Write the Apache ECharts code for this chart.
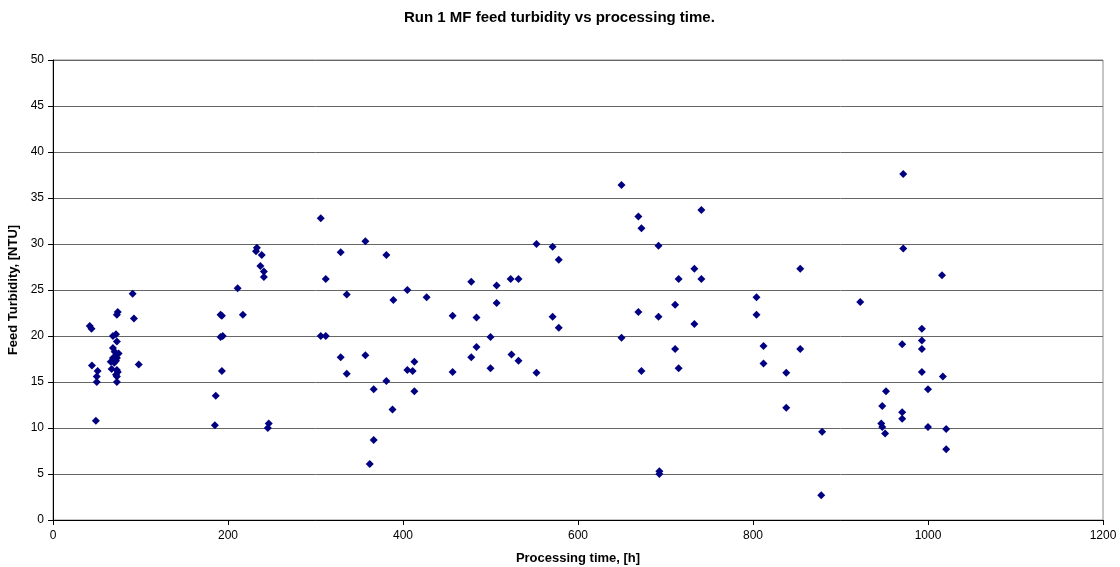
<!DOCTYPE html>
<html>
<head>
<meta charset="utf-8">
<title>Run 1 MF feed turbidity</title>
<script src="https://cdn.jsdelivr.net/npm/echarts@6/dist/echarts.min.js"></script>
<style>
  html, body { margin: 0; padding: 0; background: #ffffff; }
  #chart { width: 1120px; height: 567px; }
</style>
</head>
<body>
<div id="chart"></div>
<script>
// Processing time [h] of each sample
const hours = [
  42, 44, 44.5, 49, 51, 50, 50,
  68.5, 72, 73, 68.5, 70.5, 73, 75, 68.5, 73, 66, 70, 72, 67, 73, 74, 72, 73, 73, 74, 73,
  91, 92.5, 98,
  233, 232, 238.6, 237, 241, 241, 211, 191.5, 193, 217, 191.5, 194, 193, 186, 185, 246.6, 245.5,
  306, 357, 328.8, 381, 311.7, 335.7, 405, 389, 427, 306, 311.7, 328.8, 357, 413, 335.7, 405,
  411, 381, 366.5, 413, 388, 366.5, 362,
  552.6, 571, 578, 478, 507, 523, 532, 507, 456.7, 484, 571, 578, 500, 484, 478, 524, 532,
  456.7, 500, 552.6,
  649.7, 741, 669, 672.5, 692, 733, 715, 741, 711, 669, 692, 733, 649.7, 711, 672.5, 715, 693, 693,
  854, 804, 922.6, 804, 812, 854, 812, 838, 838, 879, 878,
  971.7, 971.7, 1016, 993, 970.5, 993, 993, 993, 1017, 1000, 952, 947.7, 970.5, 970.5, 946.6,
  947.7, 1000, 951, 1020.8, 1020.8
];

// Feed turbidity [NTU] of each sample
const turbidity = [
  21.1, 20.8, 16.8, 10.8, 16.2, 15.6, 15.0,
  20.0, 20.2, 19.4, 18.7, 18.3, 18.0, 18.1, 17.6, 17.6, 17.2, 17.1, 17.3, 16.4, 16.3, 16.1, 15.8, 15.6, 15.0, 22.6, 22.3,
  24.6, 21.9, 16.9,
  29.6, 29.2, 28.8, 27.6, 27.0, 26.4, 25.2, 22.3, 22.2, 22.3, 19.9, 20.0, 16.2, 13.5, 10.3, 10.5, 10.0,
  32.8, 30.3, 29.1, 28.8, 26.2, 24.5, 25.0, 23.9, 24.2, 20.0, 20.0, 17.7, 17.9, 17.2, 15.9, 16.3,
  16.2, 15.1, 14.2, 14.0, 12.0, 8.7, 6.1,
  30.0, 29.7, 28.3, 25.9, 25.5, 26.2, 26.2, 23.6, 22.2, 22.0, 22.1, 20.9, 19.9, 18.8, 17.7, 18.0, 17.3,
  16.1, 16.5, 16.0,
  36.4, 33.7, 33.0, 31.7, 29.8, 27.3, 26.2, 26.2, 23.4, 22.6, 22.1, 21.3, 19.8, 18.6, 16.2, 16.5, 5.3, 5.0,
  27.3, 24.2, 23.7, 22.3, 18.9, 18.6, 17.0, 16.0, 12.2, 9.6, 2.7,
  37.6, 29.5, 26.6, 20.8, 19.1, 19.5, 18.6, 16.1, 15.6, 14.2, 14.0, 12.4, 11.7, 11.0, 10.5,
  10.1, 10.1, 9.4, 9.9, 7.7
];

const chartTitle = 'Run 1 MF feed turbidity vs processing time.';
const xAxisTitle = 'Processing time, [h]';
const yAxisTitle = 'Feed Turbidity, [NTU]';

const points = hours.map((h, i) => [h, turbidity[i]]);

const font = '"Liberation Sans", Arial, sans-serif';
const chart = echarts.init(document.getElementById('chart'), null, { renderer: 'canvas' });

chart.setOption({
  backgroundColor: '#ffffff',
  animation: false,
  title: {
    text: chartTitle,
    left: 399,
    top: 5,
    textStyle: { fontFamily: font, fontSize: 15, fontWeight: 'bold', color: '#000000' }
  },
  grid: {
    left: 53, right: 17, top: 60, bottom: 47,
    outerBoundsMode: 'none',
    containLabel: false,
    show: true, borderColor: '#8c8c8c', borderWidth: 1
  },
  xAxis: {
    type: 'value',
    min: 0, max: 1200, interval: 200,
    name: xAxisTitle,
    nameLocation: 'middle',
    nameGap: 32,
    nameTextStyle: { fontFamily: font, fontSize: 13, fontWeight: 'bold', color: '#000000' },
    axisLine: { show: true, lineStyle: { color: '#000000', width: 1 } },
    axisTick: { show: true, length: 5, inside: false, lineStyle: { color: '#000000' } },
    axisLabel: {
      fontFamily: font, fontSize: 12, color: '#000000', margin: 10,
      formatter: v => String(v)
    },
    splitLine: { show: false }
  },
  yAxis: {
    type: 'value',
    min: 0, max: 50, interval: 5,
    name: yAxisTitle,
    nameLocation: 'middle',
    nameGap: 30,
    nameTextStyle: { fontFamily: font, fontSize: 13, fontWeight: 'bold', color: '#000000' },
    axisLine: { show: true, lineStyle: { color: '#000000', width: 1 } },
    axisTick: { show: true, length: 5, inside: false, lineStyle: { color: '#000000' } },
    axisLabel: { fontFamily: font, fontSize: 12, color: '#000000', margin: 9 },
    splitLine: { show: true, lineStyle: { color: '#666666', width: 1 } }
  },
  series: [{
    type: 'scatter',
    data: points,
    symbol: 'diamond',
    symbolSize: 8,
    itemStyle: { color: '#000080', opacity: 1 }
  }]
});
</script>
</body>
</html>
